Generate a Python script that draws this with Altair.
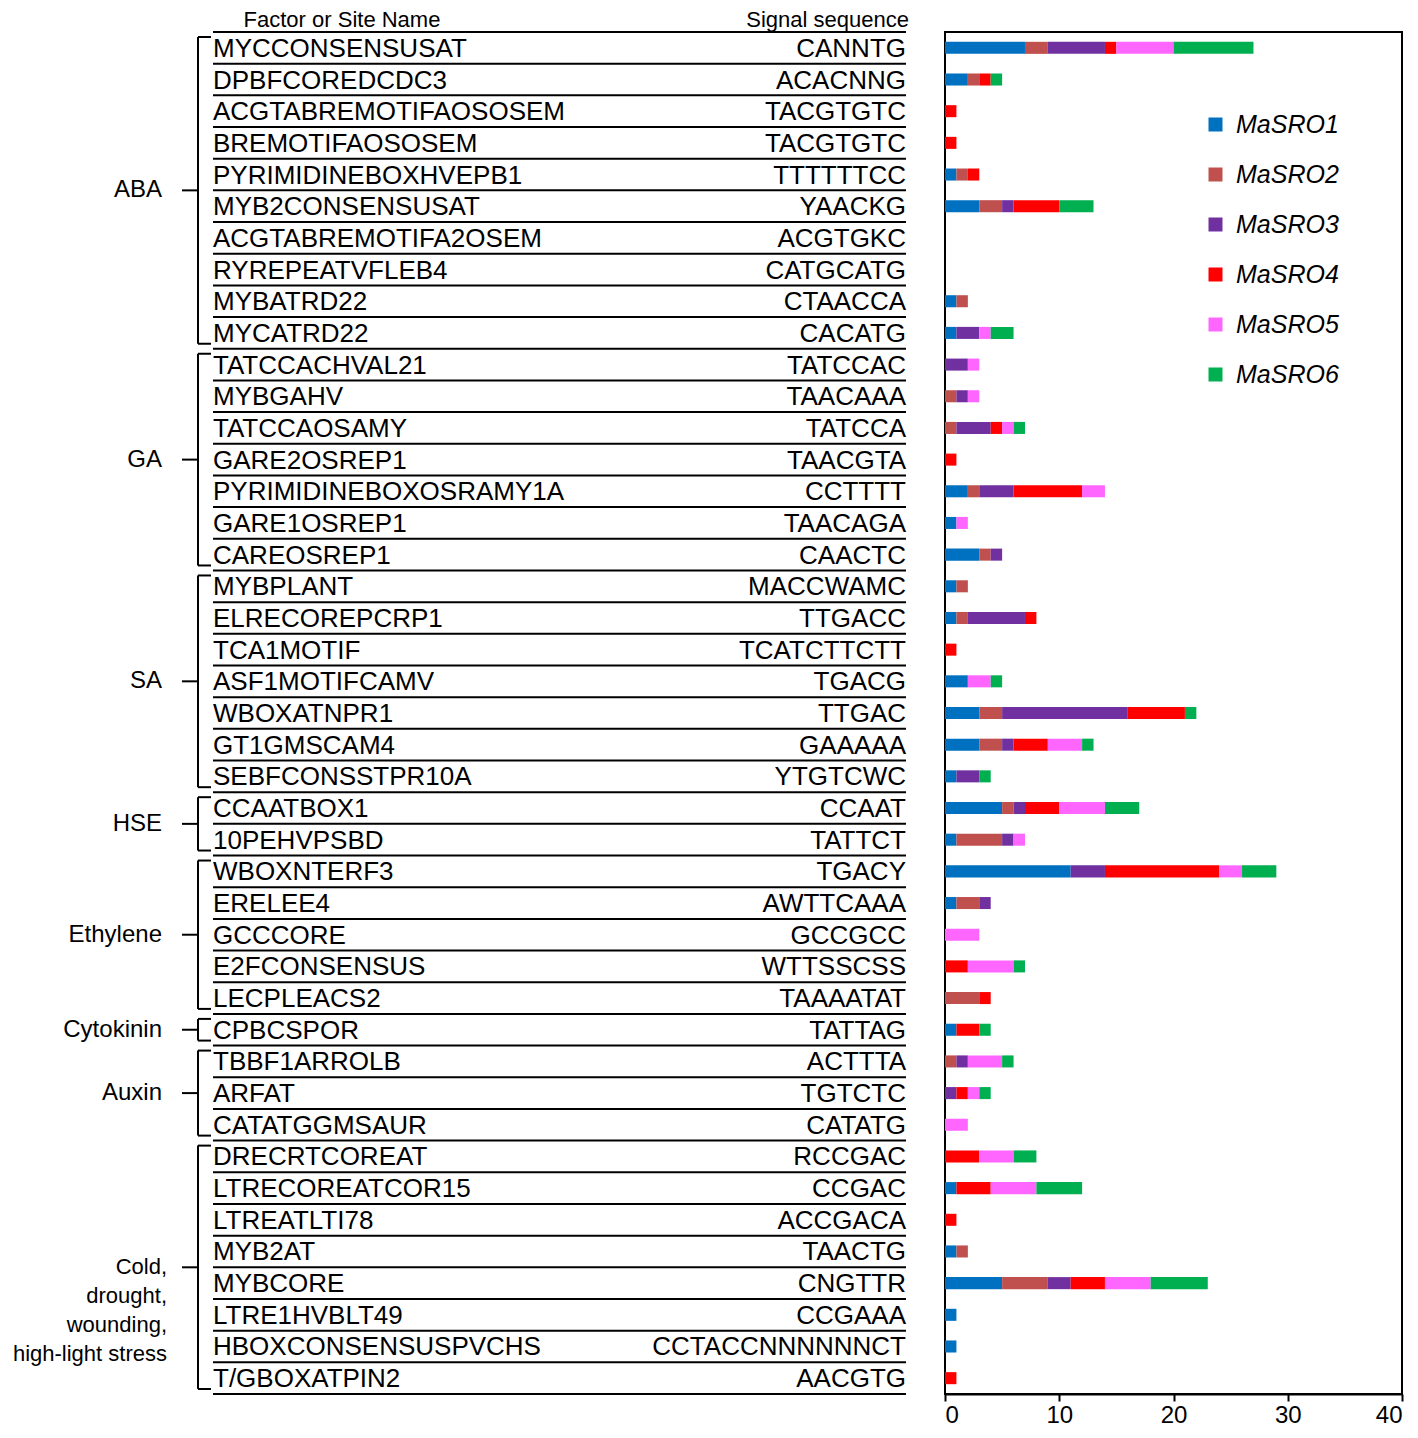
import altair as alt
import pandas as pd

names = ["MYCCONSENSUSAT", "DPBFCOREDCDC3", "ACGTABREMOTIFAOSOSEM", "BREMOTIFAOSOSEM",
         "PYRIMIDINEBOXHVEPB1", "MYB2CONSENSUSAT", "ACGTABREMOTIFA2OSEM", "RYREPEATVFLEB4",
         "MYBATRD22", "MYCATRD22", "TATCCACHVAL21", "MYBGAHV", "TATCCAOSAMY", "GARE2OSREP1",
         "PYRIMIDINEBOXOSRAMY1A", "GARE1OSREP1", "CAREOSREP1", "MYBPLANT", "ELRECOREPCRP1",
         "TCA1MOTIF", "ASF1MOTIFCAMV", "WBOXATNPR1", "GT1GMSCAM4", "SEBFCONSSTPR10A",
         "CCAATBOX1", "10PEHVPSBD", "WBOXNTERF3", "ERELEE4", "GCCCORE", "E2FCONSENSUS",
         "LECPLEACS2", "CPBCSPOR", "TBBF1ARROLB", "ARFAT", "CATATGGMSAUR", "DRECRTCOREAT",
         "LTRECOREATCOR15", "LTREATLTI78", "MYB2AT", "MYBCORE", "LTRE1HVBLT49",
         "HBOXCONSENSUSPVCHS", "T/GBOXATPIN2"]
seqs = ["CANNTG", "ACACNNG", "TACGTGTC", "TACGTGTC", "TTTTTTCC", "YAACKG", "ACGTGKC",
        "CATGCATG", "CTAACCA", "CACATG", "TATCCAC", "TAACAAA", "TATCCA", "TAACGTA", "CCTTTT",
        "TAACAGA", "CAACTC", "MACCWAMC", "TTGACC", "TCATCTTCTT", "TGACG", "TTGAC", "GAAAAA",
        "YTGTCWC", "CCAAT", "TATTCT", "TGACY", "AWTTCAAA", "GCCGCC", "WTTSSCSS", "TAAAATAT",
        "TATTAG", "ACTTTA", "TGTCTC", "CATATG", "RCCGAC", "CCGAC", "ACCGACA", "TAACTG",
        "CNGTTR", "CCGAAA", "CCTACCNNNNNNCT", "AACGTG"]

masro1 = [7, 2, 0, 0, 1, 3, 0, 0, 1, 1, 0, 0, 0, 0, 2, 1, 3, 1, 1, 0, 2, 3, 3, 1, 5, 1, 11,
          1, 0, 0, 0, 1, 0, 0, 0, 0, 1, 0, 1, 5, 1, 1, 0]
masro2 = [2, 1, 0, 0, 1, 2, 0, 0, 1, 0, 0, 1, 1, 0, 1, 0, 1, 1, 1, 0, 0, 2, 2, 0, 1, 4, 0,
          2, 0, 0, 3, 0, 1, 0, 0, 0, 0, 0, 1, 4, 0, 0, 0]
masro3 = [5, 0, 0, 0, 0, 1, 0, 0, 0, 2, 2, 1, 3, 0, 3, 0, 1, 0, 5, 0, 0, 11, 1, 2, 1, 1, 3,
          1, 0, 0, 0, 0, 1, 1, 0, 0, 0, 0, 0, 2, 0, 0, 0]
masro4 = [1, 1, 1, 1, 1, 4, 0, 0, 0, 0, 0, 0, 1, 1, 6, 0, 0, 0, 1, 1, 0, 5, 3, 0, 3, 0, 10,
          0, 0, 2, 1, 2, 0, 1, 0, 3, 3, 1, 0, 3, 0, 0, 1]
masro5 = [5, 0, 0, 0, 0, 0, 0, 0, 0, 1, 1, 1, 1, 0, 2, 1, 0, 0, 0, 0, 2, 0, 3, 0, 4, 1, 2,
          0, 3, 4, 0, 0, 3, 1, 2, 3, 4, 0, 0, 4, 0, 0, 0]
masro6 = [7, 1, 0, 0, 0, 3, 0, 0, 0, 2, 0, 0, 1, 0, 0, 0, 0, 0, 0, 0, 1, 1, 1, 1, 3, 0, 3,
          0, 0, 1, 0, 1, 1, 1, 0, 2, 4, 0, 0, 5, 0, 0, 0]

genes = ["MaSRO1", "MaSRO2", "MaSRO3", "MaSRO4", "MaSRO5", "MaSRO6"]
colors = ["#0070C0", "#C0504D", "#7030A0", "#FF0000", "#FF66FF", "#00B050"]

group_labels = ["ABA", "GA", "SA", "HSE", "Ethylene", "Cytokinin", "Auxin",
                "Cold,\u00a0\u00a0\ndrought,\nwounding,\nhigh-light stress"]
group_sizes = [10, 7, 7, 2, 5, 1, 3, 8]

header_names = ["Factor or Site Name", "Signal sequence"]
x_ticks = [0, 10, 20, 30, 40]

FONT = "Liberation Sans"
n = len(names)

rows_df = pd.DataFrame({"row": list(range(n)), "name": names, "seq": seqs})
series = [masro1, masro2, masro3, masro4, masro5, masro6]
long = []
for gi, (g, vals) in enumerate(zip(genes, series)):
    for r, v in enumerate(vals):
        long.append({"row": r, "gene": g, "order": gi, "value": v})
bars_df = pd.DataFrame(long)

starts, ends = [], []
s = 0
for sz in group_sizes:
    starts.append(s)
    s += sz
    ends.append(s)
groups_df = pd.DataFrame({"label": group_labels, "start": starts, "end": ends,
                          "multi": [lab.count("\n") > 0 for lab in group_labels]})
lines_df = pd.DataFrame({"b": list(range(n + 1))})

Y = alt.Scale(domain=[0, n], reverse=True, nice=False, zero=False)

bars = (
    alt.Chart(bars_df)
    .transform_filter("datum.value > 0")
    .transform_stack(stack="value", groupby=["row"], as_=["x0", "x1"],
                     sort=[alt.SortField("order", order="ascending")])
    .transform_calculate(y0="datum.row + 0.5 - 0.19", y1="datum.row + 0.5 + 0.19")
    .mark_rect()
    .encode(
        x=alt.X("x0:Q", scale=alt.Scale(domain=[0, 40], nice=False),
                axis=alt.Axis(values=x_ticks, title=None, grid=False, labelFontSize=24,
                              labelFont=FONT, labelColor="black", tickColor="black",
                              tickSize=7, tickWidth=2, domainColor="black", domainWidth=2,
                              labelPadding=2)),
        x2="x1:Q",
        y=alt.Y("y0:Q", scale=Y, axis=None),
        y2="y1:Q",
        color=alt.Color("gene:N", scale=alt.Scale(domain=genes, range=colors),
                        legend=alt.Legend(title=None, orient="none", legendX=258, legendY=80,
                                          symbolType="square", symbolSize=196,
                                          symbolStrokeWidth=0, labelFontSize=25,
                                          labelFontStyle="italic", labelFont=FONT,
                                          labelColor="black", rowPadding=24, labelOffset=8,
                                          padding=0)),
        order=alt.Order("order:Q"),
    )
)

lines = alt.Chart(lines_df).mark_rule(color="black", strokeWidth=2).encode(
    x=alt.value(-732), x2=alt.value(-39), y=alt.Y("b:Q", scale=Y, axis=None))

name_text = (
    alt.Chart(rows_df).transform_calculate(yc="datum.row + 0.5")
    .mark_text(align="left", baseline="middle", fontSize=26, font=FONT, color="black", dy=1)
    .encode(x=alt.value(-732), y=alt.Y("yc:Q", scale=Y, axis=None), text="name:N")
)
seq_text = (
    alt.Chart(rows_df).transform_calculate(yc="datum.row + 0.5")
    .mark_text(align="right", baseline="middle", fontSize=26, font=FONT, color="black", dy=1)
    .encode(x=alt.value(-39), y=alt.Y("yc:Q", scale=Y, axis=None), text="seq:N")
)

gbase = alt.Chart(groups_df).transform_calculate(mid="(datum.start + datum.end) / 2")
brace_v = gbase.mark_rule(color="black", strokeWidth=2, yOffset=5, y2Offset=-5).encode(
    x=alt.value(-747), y=alt.Y("start:Q", scale=Y, axis=None), y2="end:Q")
brace_top = gbase.mark_rule(color="black", strokeWidth=2, yOffset=5).encode(
    x=alt.value(-747), x2=alt.value(-734), y=alt.Y("start:Q", scale=Y, axis=None))
brace_bot = gbase.mark_rule(color="black", strokeWidth=2, yOffset=-5).encode(
    x=alt.value(-747), x2=alt.value(-734), y=alt.Y("end:Q", scale=Y, axis=None))
brace_mid = gbase.mark_rule(color="black", strokeWidth=2).encode(
    x=alt.value(-763), x2=alt.value(-747), y=alt.Y("mid:Q", scale=Y, axis=None))
group_text = gbase.transform_filter("!datum.multi").mark_text(
    align="right", baseline="middle", fontSize=24, font=FONT, color="black").encode(
    x=alt.value(-783), y=alt.Y("mid:Q", scale=Y, axis=None), text="label:N")
group_text_multi = gbase.transform_filter("datum.multi").mark_text(
    align="right", baseline="middle", fontSize=22, font=FONT, color="black",
    lineBreak="\n", lineHeight=29).encode(
    x=alt.value(-778), y=alt.Y("mid:Q", scale=Y, axis=None), text="label:N")

hdr_df = pd.DataFrame({"h": header_names})
hdr1 = alt.Chart(hdr_df).transform_filter(alt.datum.h == header_names[0]).mark_text(
    align="center", baseline="middle", fontSize=22, font=FONT, color="black").encode(
    x=alt.value(-603), y=alt.value(-12), text="h:N")
hdr2 = alt.Chart(hdr_df).transform_filter(alt.datum.h == header_names[1]).mark_text(
    align="right", baseline="middle", fontSize=22, font=FONT, color="black").encode(
    x=alt.value(-36), y=alt.value(-12), text="h:N")

chart = (
    alt.layer(lines, name_text, seq_text, brace_v, brace_top, brace_bot, brace_mid,
              group_text, group_text_multi, hdr1, hdr2, bars)
    .properties(width=457, height=1362,
                autosize=alt.AutoSizeParams(type="none"),
                padding={"left": 937, "top": 24, "right": 8, "bottom": 35})
    .configure(font=FONT)
    .configure_view(stroke="black", strokeWidth=2)
)

chart.save("out.html", embed_options={"renderer": "svg", "actions": False})
